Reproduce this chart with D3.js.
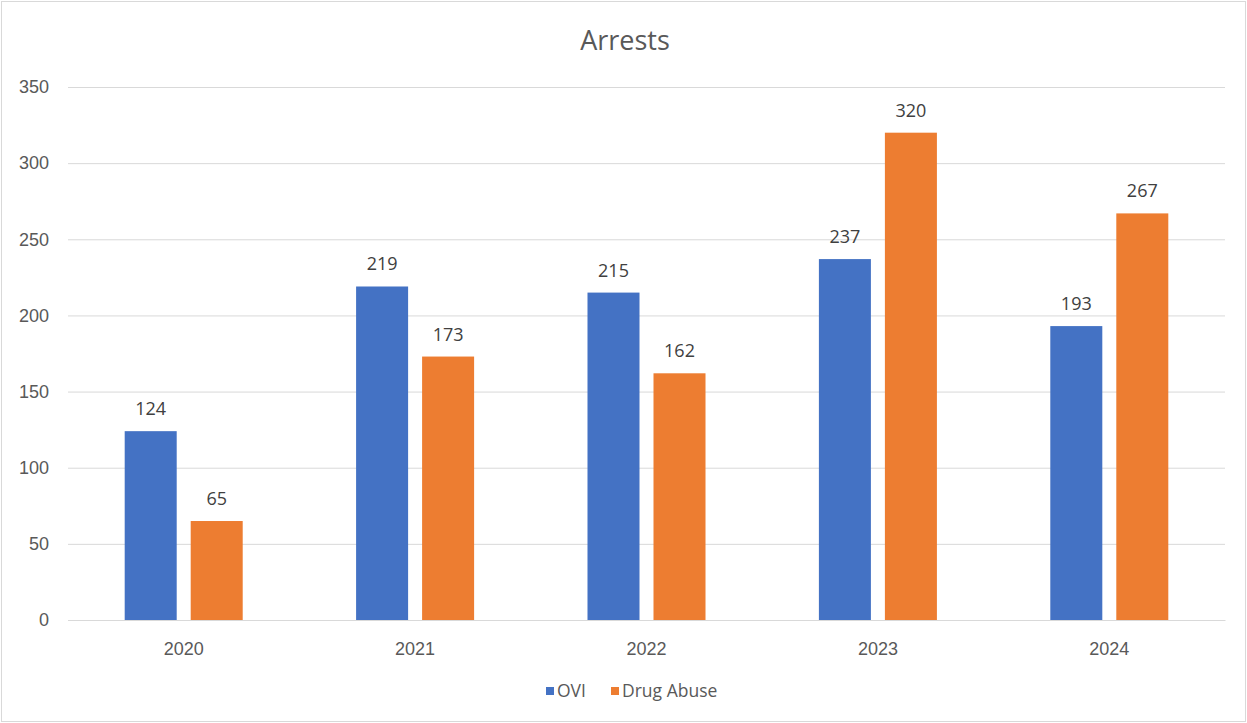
<!DOCTYPE html>
<html><head><meta charset="utf-8">
<script src="https://cdn.jsdelivr.net/npm/d3@7"></script>
<style>body{margin:0;background:#fff;}svg{display:block;font-family:"Open Sans",sans-serif;}</style>
</head><body><svg id="c" width="1247" height="723"></svg>
<script>
const categories = ["2020","2021","2022","2023","2024"];
const seriesNames = ["OVI","Drug Abuse"];
const ovi = [124,219,215,237,193];
const drugAbuse = [65,173,162,320,267];
const yTicks = [0,50,100,150,200,250,300,350];
const colors = ["#4472c4","#ed7d31"];

const svg = d3.select("#c");
const W=1247,H=723;
const m={left:68,right:1225,top:87,bottom:620};
svg.append("rect").attr("x",1.5).attr("y",1.5).attr("width",W-3).attr("height",H-3).attr("fill","#fff").attr("stroke","#d9d9d9");

const x = d3.scaleBand().domain(categories).range([m.left,m.right]).paddingInner(0).paddingOuter(0);
const x1 = d3.scaleBand().domain(seriesNames).range([0,x.bandwidth()]).paddingInner(0.212).paddingOuter(0.859);
const y = d3.scaleLinear().domain([0,350]).range([m.bottom,m.top]);

const yAxis = d3.axisLeft(y).tickValues(yTicks).tickSize(-(m.right-m.left)).tickPadding(19);
const gy = svg.append("g").attr("transform",`translate(${m.left},0)`).call(yAxis);
gy.select(".domain").remove();
gy.selectAll("line").attr("stroke","#d9d9d9");
gy.selectAll("text").attr("fill","#595959").style("font-size","18px");

const data = categories.map((c,i)=>({c, vals:[ovi[i],drugAbuse[i]]}));
const g = svg.append("g");
data.forEach(d=>{
  d.vals.forEach((v,j)=>{
    const bx = x(d.c)+x1(seriesNames[j]);
    g.append("rect").attr("x",bx).attr("y",y(v)).attr("width",x1.bandwidth()).attr("height",y(0)-y(v)).attr("fill",colors[j]);
    g.append("text").attr("x",bx+x1.bandwidth()/2).attr("y",y(v)-16).attr("text-anchor","middle")
      .attr("fill","#404040").style("font-size","18px").text(v);
  });
});

const xAxis = d3.axisBottom(x).tickSize(0).tickPadding(22);
const gx = svg.append("g").attr("transform",`translate(0,${m.bottom})`).call(xAxis);
gx.select(".domain").attr("stroke","#d9d9d9");
gx.selectAll("text").attr("fill","#595959").style("font-size","18px");

svg.append("text").attr("x",625).attr("y",50).attr("text-anchor","middle").attr("fill","#595959").style("font-size","27px").text("Arrests");

const leg = svg.append("g");
const legX=[546,611];
seriesNames.forEach((s,j)=>{
  leg.append("rect").attr("x",legX[j]).attr("y",687).attr("width",8).attr("height",8).attr("fill",colors[j]);
  leg.append("text").attr("x",legX[j]+11).attr("y",697).attr("fill","#595959").style("font-size","17.5px").text(s);
});
</script></body></html>
